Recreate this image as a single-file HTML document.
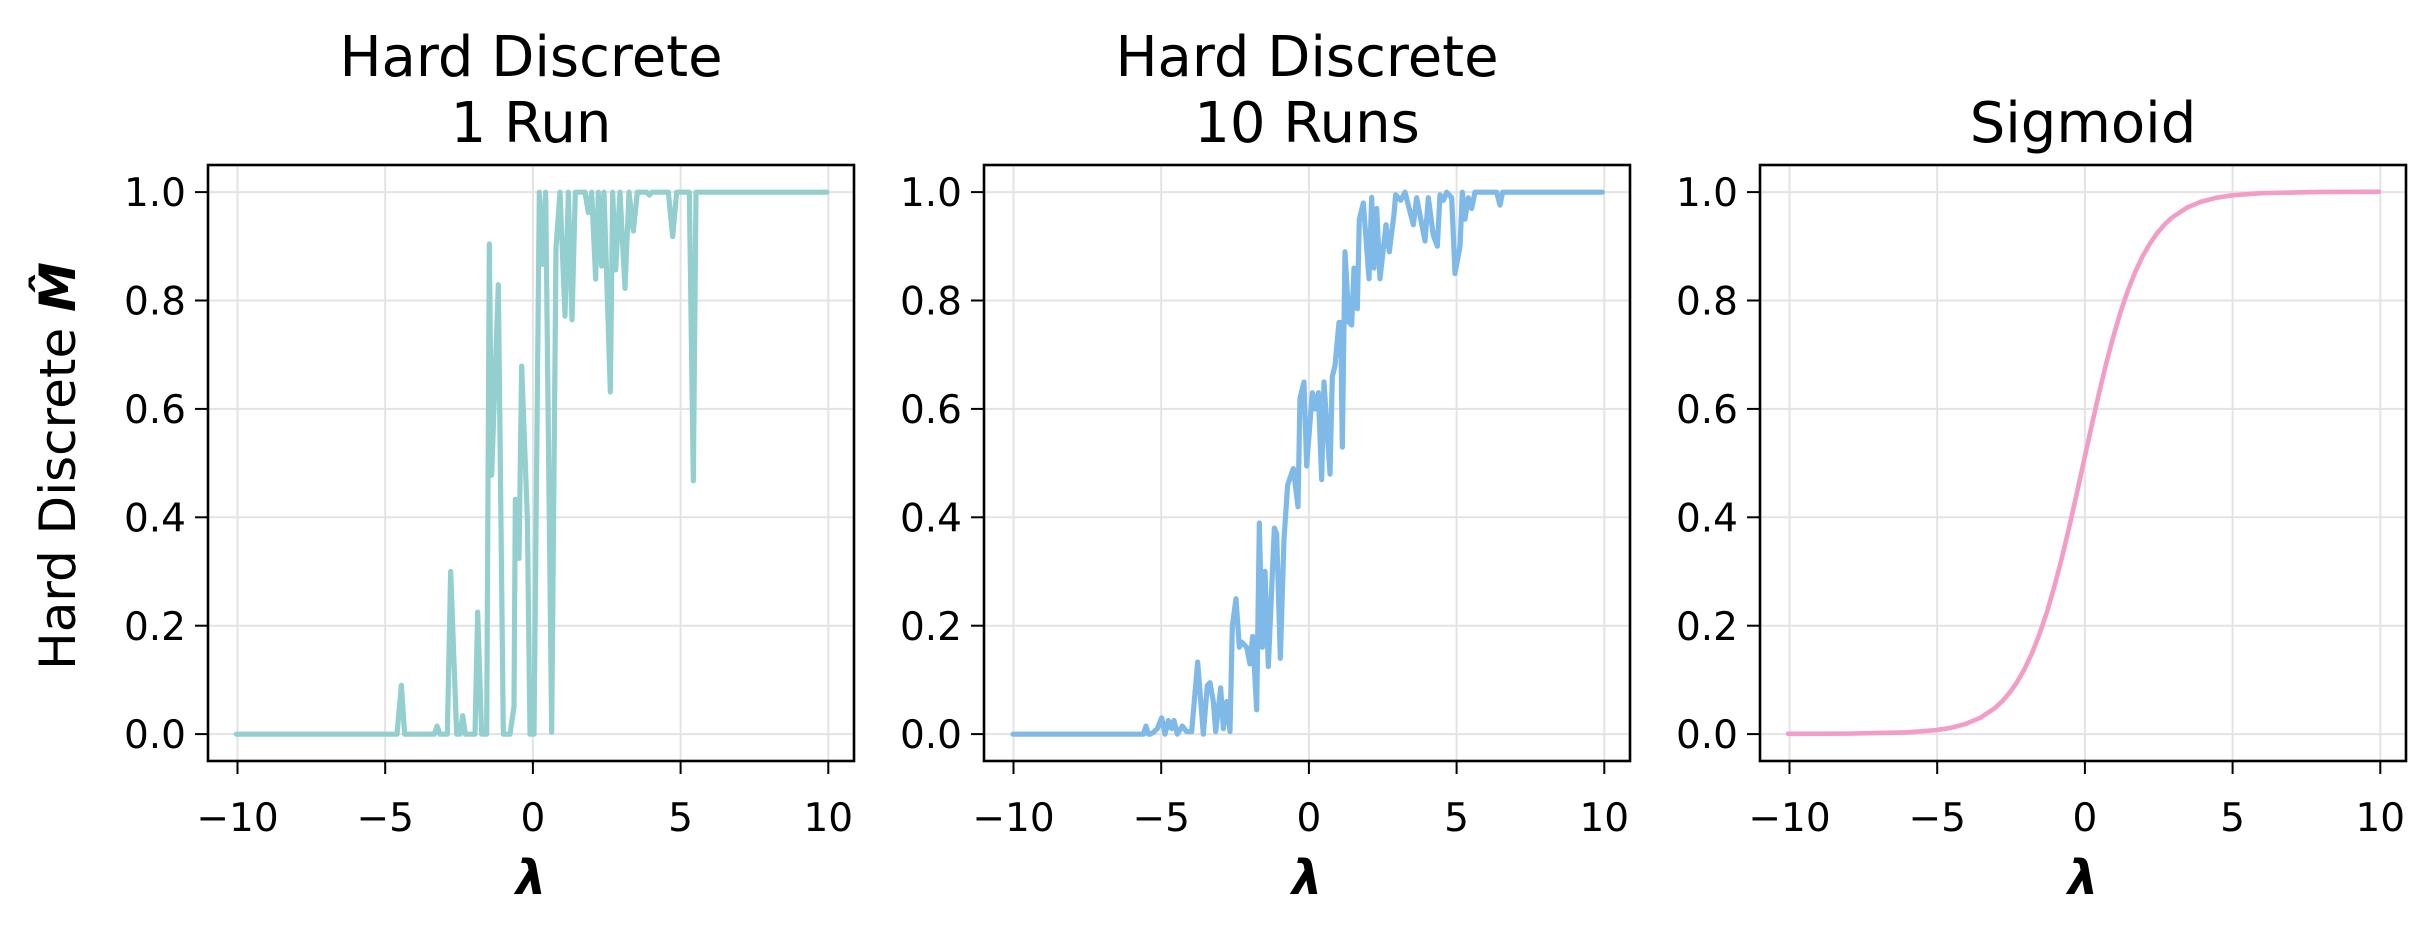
<!DOCTYPE html>
<html><head><meta charset="utf-8"><style>
html,body{margin:0;padding:0;background:#fff;}
svg{display:block;font-family:"DejaVu Sans","Liberation Sans",sans-serif;}
</style></head><body>
<svg width="2434" height="934" viewBox="0 0 2434 934" xmlns="http://www.w3.org/2000/svg">
<defs>
<g id="grid">
  <g stroke="#e3e3e3" stroke-width="2">
    <line x1="29.5" y1="0" x2="29.5" y2="596"/>
    <line x1="177.2" y1="0" x2="177.2" y2="596"/>
    <line x1="324.9" y1="0" x2="324.9" y2="596"/>
    <line x1="472.6" y1="0" x2="472.6" y2="596"/>
    <line x1="620.3" y1="0" x2="620.3" y2="596"/>
    <line x1="0" y1="27.1" x2="646" y2="27.1"/>
    <line x1="0" y1="135.5" x2="646" y2="135.5"/>
    <line x1="0" y1="243.9" x2="646" y2="243.9"/>
    <line x1="0" y1="352.3" x2="646" y2="352.3"/>
    <line x1="0" y1="460.7" x2="646" y2="460.7"/>
    <line x1="0" y1="569.1" x2="646" y2="569.1"/>
  </g>
</g>
<g id="frame">
  <rect x="0" y="0" width="646" height="596" fill="none" stroke="#000" stroke-width="2.6"/>
  <g stroke="#000" stroke-width="2">
    <line x1="-13" y1="27.1" x2="0" y2="27.1"/>
    <line x1="-13" y1="135.5" x2="0" y2="135.5"/>
    <line x1="-13" y1="243.9" x2="0" y2="243.9"/>
    <line x1="-13" y1="352.3" x2="0" y2="352.3"/>
    <line x1="-13" y1="460.7" x2="0" y2="460.7"/>
    <line x1="-13" y1="569.1" x2="0" y2="569.1"/>
    <line x1="29.5" y1="596" x2="29.5" y2="609"/>
    <line x1="177.2" y1="596" x2="177.2" y2="609"/>
    <line x1="324.9" y1="596" x2="324.9" y2="609"/>
    <line x1="472.6" y1="596" x2="472.6" y2="609"/>
    <line x1="620.3" y1="596" x2="620.3" y2="609"/>
  </g>
  <g font-size="39" text-anchor="end" fill="#000">
    <text x="-22" y="41">1.0</text>
    <text x="-22" y="149.5">0.8</text>
    <text x="-22" y="258">0.6</text>
    <text x="-22" y="366.5">0.4</text>
    <text x="-22" y="475">0.2</text>
    <text x="-22" y="583">0.0</text>
  </g>
  <g font-size="39" text-anchor="middle" fill="#000">
    <text x="29.5" y="666">−10</text>
    <text x="177.2" y="666">−5</text>
    <text x="324.9" y="666">0</text>
    <text x="472.6" y="666">5</text>
    <text x="620.3" y="666">10</text>
  </g>
  <text x="323" y="729" font-size="48" font-weight="bold" font-style="italic" text-anchor="middle">λ</text>
</g>
</defs>

<!-- Panel 1 -->
<g transform="translate(208,165)"><use href="#grid"/></g>
<g transform="translate(450,170) scale(0.33333,0.36996)">
<polyline fill="none" stroke="#93cfce" stroke-width="5.2" stroke-linejoin="round" stroke-linecap="round" vector-effect="non-scaling-stroke"
points="-641,1525 -159,1525 -146,1393 -136,1525 -47,1525 -39,1503 -30,1525 -8,1525 2,1085 20,1525 30,1525 38,1475 46,1525 75,1525 83,1195 95,1525 110,1525 118,200 125,825 145,310 160,1525 180,1525 192,1450 196,890 207,1050 215,530 232,940 240,1525 252,1525 268,60 278,255 287,60 305,1520 318,210 330,60 345,395 355,60 366,405 376,60 405,60 415,115 425,60 437,295 445,60 455,260 462,60 481,600 488,60 497,270 510,60 525,320 537,60 550,165 562,60 590,60 598,68 606,60 655,60 668,180 680,60 718,60 730,840 738,60 1131,60"/>
</g>
<g transform="translate(208,165)"><use href="#frame"/></g>
<g font-size="56" text-anchor="middle" fill="#000">
<text x="531" y="76">Hard Discrete</text>
<text x="531" y="142">1 Run</text>
</g>
<text transform="translate(75,466) rotate(-90)" font-size="50" text-anchor="middle" fill="#000">Hard Discrete <tspan font-weight="bold" font-style="italic">M̂</tspan></text>

<!-- Panel 2 -->
<g transform="translate(984,165)"><use href="#grid"/></g>
<g transform="translate(1150,170) scale(0.33333,0.36996)">
<polyline fill="none" stroke="#7fb9e8" stroke-width="5.2" stroke-linejoin="round" stroke-linecap="round" vector-effect="non-scaling-stroke"
points="-411,1525 -20,1525 -12,1503 -5,1525 0,1525 10,1520 22,1510 35,1481 45,1525 55,1488 65,1510 72,1488 82,1525 97,1503 110,1518 125,1518 143,1330 160,1525 172,1393 180,1386 190,1437 197,1518 212,1400 220,1510 230,1437 240,1518 247,1232 258,1159 268,1290 275,1276 290,1290 300,1335 308,1261 320,1459 328,954 337,1290 345,1085 355,1342 373,968 380,983 391,1320 402,998 413,851 430,807 444,910 450,617 462,573 470,800 487,602 495,646 505,602 515,837 522,573 540,822 547,558 555,529 567,412 572,412 577,749 585,221 597,412 605,419 612,265 622,375 628,133 640,89 657,294 665,74 672,265 680,104 690,294 708,148 718,221 732,119 737,67 752,82 765,60 790,148 800,75 825,192 835,75 850,177 862,206 870,67 880,82 890,60 905,75 915,280 930,206 937,60 945,133 955,75 965,104 975,60 1040,60 1050,95 1058,60 1357,60"/>
</g>
<g transform="translate(984,165)"><use href="#frame"/></g>
<g font-size="56" text-anchor="middle" fill="#000">
<text x="1307" y="76">Hard Discrete</text>
<text x="1307" y="142">10 Runs</text>
</g>

<!-- Panel 3 -->
<g transform="translate(1760,165)"><use href="#grid"/></g>
<g transform="translate(2083.5,733.8) scale(29.54,-542)">
<polyline fill="none" stroke="#f39cc6" stroke-width="4.6" stroke-linejoin="round" stroke-linecap="round" vector-effect="non-scaling-stroke"
points="-10,0.0000454 -8,0.000335 -6,0.00247 -5,0.00669 -4.5,0.011 -4,0.018 -3.5,0.0293 -3,0.0474 -2.75,0.0601 -2.5,0.0759 -2.25,0.0953 -2,0.1192 -1.75,0.148 -1.5,0.1824 -1.25,0.2227 -1,0.2689 -0.75,0.3208 -0.5,0.3775 -0.25,0.4378 0,0.5 0.25,0.5622 0.5,0.6225 0.75,0.6792 1,0.7311 1.25,0.7773 1.5,0.8176 1.75,0.852 2,0.8808 2.25,0.9047 2.5,0.9241 2.75,0.9399 3,0.9526 3.5,0.9707 4,0.982 4.5,0.989 5,0.9933 6,0.9975 8,0.99966 10,1"/>
</g>
<g transform="translate(1760,165)"><use href="#frame"/></g>
<text x="2083" y="142" font-size="56" text-anchor="middle" fill="#000">Sigmoid</text>
</svg>
</body></html>
